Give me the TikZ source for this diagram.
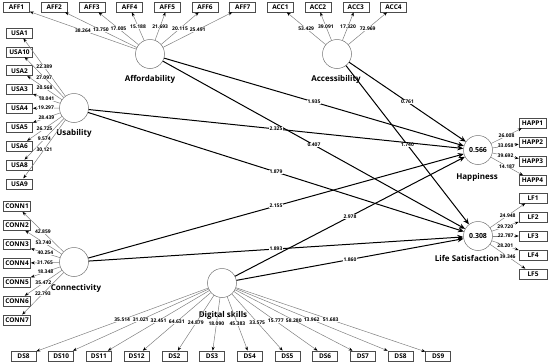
\documentclass[tikz,border=0pt]{standalone}
\usepackage{fontspec}
\setmainfont{Open Sans}
\usetikzlibrary{arrows.meta}
\begin{document}
\begin{tikzpicture}[x=1pt,y=-1pt,
 ind/.style={draw=black!70, line width=0.6pt, minimum width=26pt, minimum height=10pt, inner sep=0pt, fill=white, font=\fontsize{6.5}{7}\selectfont\bfseries},
 lat/.style={circle, draw=black!55, line width=0.5pt, minimum size=29pt, inner sep=0pt, fill=white, font=\fontsize{7}{8}\selectfont\bfseries},
 latlab/.style={font=\fontsize{8}{9}\selectfont\bfseries, inner sep=0pt},
 load/.style={draw=black!50, line width=0.5pt, -{Stealth[length=4pt,width=3pt,color=black]}},
 spath/.style={draw=black, line width=1pt, -{Stealth[length=6pt,width=5pt]}},
 num/.style={font=\fontsize{5}{6}\selectfont\bfseries, fill=white, inner sep=0.3pt},
]
\useasboundingbox (0,0) rectangle (550,362);
% latent labels
\node[latlab] (lAff) at (150,79) {Affordability};
\node[latlab] (lAcc) at (336,79) {Accessibility};
\node[latlab] (lUsa) at (74,133) {Usability};
\node[latlab] (lCon) at (76,288) {Connectivity};
\node[latlab] (lDS) at (223,315) {Digital skills};
\node[latlab] (lHap) at (477,177) {Happiness};
\node[latlab] (lLS) at (467,258) {Life Satisfaction};
% latent circles
\node[lat] (Aff) at (150,54) {};
\node[lat] (Acc) at (337,54) {};
\node[lat] (Usa) at (74,108) {};
\node[lat] (Con) at (74,262) {};
\node[lat] (DS) at (222,283) {};
\node[lat] (Hap) at (478,150) {0.566};
\node[lat] (LS) at (478,236) {0.308};
% top indicators
\foreach \n [count=\i from 0] in {AFF1,AFF2,AFF3,AFF4,AFF5,AFF6,AFF7,ACC1,ACC2,ACC3,ACC4}
  \node[ind] (\n) at ({16.5+37.7*\i},7) {\n};
% usability indicators
\foreach \n [count=\i from 0] in {USA1,USA10,USA2,USA3,USA4,USA5,USA6,USA8,USA9}
  \node[ind] (\n) at (19.5,{33+18.85*\i}) {\n};
% connectivity indicators
\foreach \n [count=\i from 0] in {CONN1,CONN2,CONN3,CONN4,CONN5,CONN6,CONN7}
  \node[ind, minimum width=27pt] (\n) at (17,{206.5+18.9*\i}) {\n};
% happiness indicators
\foreach \n [count=\i from 0] in {HAPP1,HAPP2,HAPP3,HAPP4}
  \node[ind, minimum width=27pt] (\n) at (532.5,{123+19.2*\i}) {\n};
% life satisfaction indicators
\foreach \n [count=\i from 0] in {LF1,LF2,LF3,LF4,LF5}
  \node[ind, minimum width=28pt] (\n) at (533,{198+19*\i}) {\n};
% digital skills indicators
\foreach \t [count=\i from 0] in {DS8,DS10,DS11,DS12,DS2,DS3,DS4,DS5,DS6,DS7,DS8,DS9}
  \node[ind, minimum width=25pt] (D\i) at ({23.5+37.7*\i},356) {\t};
% loadings
\foreach \n/\v in {AFF3/17.005,AFF2/13.750,AFF1/38.264,AFF4/15.188,AFF5/21.693,AFF6/20.115,AFF7/25.491}
  \draw[load] (Aff) -- node[num]{\v} (\n);
\foreach \n/\v in {ACC1/53.429,ACC2/39.091,ACC3/17.320,ACC4/72.969}
  \draw[load] (Acc) -- node[num]{\v} (\n);
\foreach \n/\v in {USA1/22.389,USA10/27.097,USA2/20.568,USA3/18.041,USA4/19.297,USA5/28.439,USA6/26.725,USA8/9.574,USA9/30.121}
  \draw[load] (Usa) -- node[num]{\v} (\n);
\foreach \n/\v in {CONN1/42.859,CONN2/53.740,CONN3/40.254,CONN4/31.765,CONN5/18.348,CONN6/35.472,CONN7/22.793}
  \draw[load] (Con) -- node[num]{\v} (\n);
\foreach \n/\v in {HAPP1/26.008,HAPP2/33.058,HAPP3/39.692,HAPP4/14.187}
  \draw[load] (Hap) -- node[num]{\v} (\n);
\foreach \n/\v in {LF1/24.948,LF2/29.720,LF3/22.787,LF4/28.201,LF5/39.346}
  \draw[load] (LS) -- node[num]{\v} (\n);
\foreach \n/\v in {D1/31.021,D0/35.514,D2/32.451,D3/64.631,D4/24.879,D5/18.090,D6/45.383,D7/33.575,D8/15.777,D9/58.280,D10/13.962,D11/51.683}
  \draw[load] (DS) -- node[num]{\v} (\n);
% structural paths
\draw[spath] (Aff) -- node[num]{1.935} (Hap);
\draw[spath] (Aff) -- node[num]{0.407} (LS);
\draw[spath] (Acc) -- node[num]{0.761} (Hap);
\draw[spath] (Acc) -- node[num]{1.740} (LS);
\draw[spath] (Usa) -- node[num]{2.325} (Hap);
\draw[spath] (Usa) -- node[num]{1.879} (LS);
\draw[spath] (Con) -- node[num]{2.155} (Hap);
\draw[spath] (Con) -- node[num]{1.893} (LS);
\draw[spath] (DS) -- node[num]{2.978} (Hap);
\draw[spath] (DS) -- node[num]{1.860} (LS);
\end{tikzpicture}
\end{document}
